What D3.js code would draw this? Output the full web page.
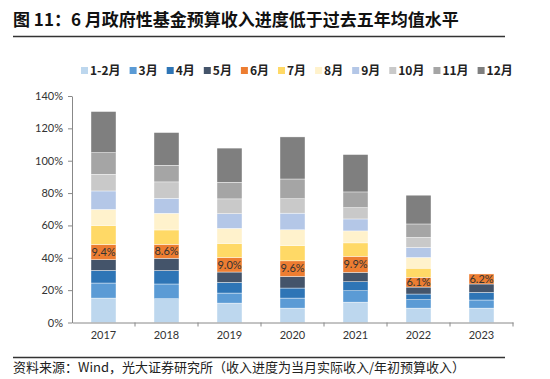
<!DOCTYPE html>
<html><head><meta charset="utf-8">
<script src="https://cdn.jsdelivr.net/npm/d3@7"></script>
<style>
body{margin:0;background:#fff;}
svg{display:block;}
</style></head>
<body>
<svg id="chart" width="550" height="379"></svg>
<script>
const years = ["2017","2018","2019","2020","2021","2022","2023"];
const months = ["1-2月","3月","4月","5月","6月","7月","8月","9月","10月","11月","12月"];
const colors = ["#BDD7EE","#5B9BD5","#2E75B6","#44546A","#ED7D31","#FFD966","#FFF2CC","#B4C7E7","#C9C9C9","#A5A5A5","#7F7F7F"];
// monthly progress values (%) per year, in month order
const v2017 = [15.1, 9.3, 7.8, 6.6, 9.4, 11.8, 9.9, 11.4, 10.3, 13.4, 25.4];
const v2018 = [14.7, 9.1, 8.3, 7.6, 8.6, 8.9, 10.3, 9.3, 10.1, 10.3, 20.2];
const v2019 = [12.0, 6.2, 6.6, 6.4, 9.0, 8.7, 9.3, 9.1, 9.1, 10.3, 21.1];
const v2020 = [8.9, 6.2, 6.2, 7.2, 9.6, 9.5, 9.7, 10.3, 8.9, 12.2, 26.0];
const v2021 = [12.6, 7.0, 5.6, 5.8, 9.9, 8.3, 7.4, 7.4, 7.0, 9.7, 23.1];
const v2022 = [8.9, 5.2, 3.5, 4.3, 6.1, 5.6, 6.6, 6.2, 6.2, 8.3, 17.8];
const v2023 = [8.9, 5.0, 4.7, 5.2, 6.2];
const yTicks = [0,20,40,60,80,100,120,140];
const labelMonth = "6月";

const series = [v2017,v2018,v2019,v2020,v2021,v2022,v2023];
const svg = d3.select("#chart");
const cjk = "'Noto Sans CJK SC','Noto Sans',sans-serif";
const num = "Lato,'Noto Sans CJK SC',sans-serif";

// title
svg.append("text").attr("x",13).attr("y",26).attr("font-family",cjk).attr("font-weight","bold")
  .attr("font-size",17).attr("fill","#111").text("图 11：6 月政府性基金预算收入进度低于过去五年均值水平");
svg.append("line").attr("x1",13).attr("x2",505).attr("y1",36.5).attr("y2",36.5).attr("stroke","#333").attr("stroke-width",1.5);
svg.append("line").attr("x1",13).attr("x2",505).attr("y1",357.5).attr("y2",357.5).attr("stroke","#333").attr("stroke-width",1.5);
svg.append("text").attr("x",13).attr("y",372).attr("font-family",cjk)
  .attr("font-size",13).attr("fill","#222").text("资料来源：Wind，光大证券研究所（收入进度为当月实际收入/年初预算收入）");

// scales
const x = d3.scaleBand().domain(years).range([72,513]).paddingInner(0).paddingOuter(0);
const y = d3.scaleLinear().domain([0,140]).range([322.5,96]);
const barW = 25;

// stacked data
const stackData = years.map((yr,i)=>{
  let cum=0;
  return series[i].map((v,j)=>{const d={year:yr,month:months[j],i:j,y0:cum,y1:cum+v,v:v};cum+=v;return d;});
});

const g = svg.append("g");
stackData.forEach(col=>{
  g.selectAll(null).data(col).enter().append("rect")
    .attr("x",d=>x(d.year)+x.bandwidth()/2-barW/2)
    .attr("width",barW)
    .attr("y",d=>y(d.y1))
    .attr("height",d=>y(d.y0)-y(d.y1))
    .attr("fill",d=>colors[d.i])
    .attr("stroke","#fff").attr("stroke-width",0.4);
  g.selectAll(null).data(col.filter(d=>d.month===labelMonth)).enter().append("text")
    .attr("x",d=>x(d.year)+x.bandwidth()/2)
    .attr("y",d=>(y(d.y0)+y(d.y1))/2)
    .attr("dy","0.35em").attr("text-anchor","middle")
    .attr("font-family",num).attr("font-size",11).attr("fill","#333")
    .text(d=>d.v.toFixed(1)+"%");
});

// axes
const yAxis = d3.axisLeft(y).tickValues(yTicks).tickFormat(d=>d+"%").tickSize(4).tickSizeOuter(0);
const ya = svg.append("g").attr("transform","translate(72,0)").call(yAxis);
ya.select(".domain").attr("stroke","#888");
ya.selectAll(".tick line").attr("stroke","#888");
ya.selectAll(".tick text").attr("font-family",num).attr("font-size",11).attr("fill","#333").attr("x",-9);

const xAxis = d3.axisBottom(x).tickSize(0).tickSizeOuter(0);
const xa = svg.append("g").attr("transform","translate(0,322.5)").call(xAxis);
xa.select(".domain").attr("stroke","#888");
xa.selectAll(".tick text").attr("font-family",num).attr("font-size",11).attr("fill","#333").attr("dy","1.2em");
// band boundary ticks
xa.selectAll(null).data(years.slice(1).concat(["end"])).enter().append("line")
  .attr("x1",d=>d==="end"?513:x(d)).attr("x2",d=>d==="end"?513:x(d))
  .attr("y1",0).attr("y2",4).attr("stroke","#888");

// legend
const lg = svg.append("g").attr("transform","translate(81,71)");
let lx = 0;
months.forEach((m,i)=>{
  const it = lg.append("g").attr("transform",`translate(${lx},0)`);
  it.append("rect").attr("x",0).attr("y",-4).attr("width",7).attr("height",7).attr("fill",colors[i]);
  const t = it.append("text").attr("x",9).attr("y",0).attr("dy","0.35em")
    .attr("font-family",cjk).attr("font-weight","bold").attr("font-size",12).attr("fill","#222").text(m);
  lx += 9 + t.node().getComputedTextLength() + 9;
});
</script>
</body></html>
